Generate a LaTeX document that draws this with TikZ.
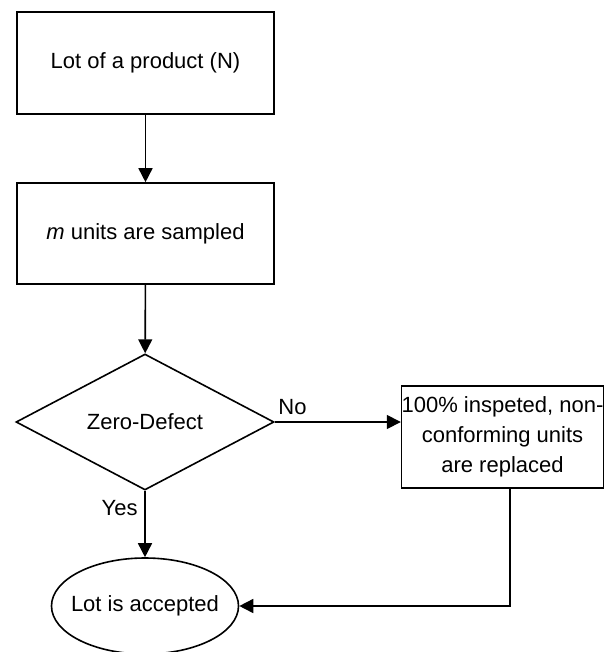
\documentclass[tikz,border=0pt]{standalone}
\usepackage{fontspec}
\setmainfont{Liberation Sans}
\usetikzlibrary{arrows.meta,shapes.geometric,calc}

\begin{document}
\begin{tikzpicture}[x=0.5pt,y=-0.5pt,
			font=\fontsize{11}{15}\selectfont,
			line width=0.8pt,
			flow/.style={-{Triangle[length=7pt,width=7pt]}},
			stepbox/.style={rectangle,draw,align=center,inner sep=0pt},
			test/.style={diamond,draw,inner sep=0pt,
				minimum width=129pt,minimum height=68pt},
			term/.style={ellipse,draw,inner ysep=0pt,inner xsep=-4pt,
				minimum width=93.5pt,minimum height=48pt}]
			
			\useasboundingbox (0,0) rectangle (604,652);
			
			% Steps
			\node[stepbox,minimum width=128.5pt,minimum height=51pt] (lot) at (145.5,63) {Lot of a product (N)};
			\node[stepbox,minimum width=128.5pt,minimum height=50.5pt] (sample) at (145.5,233.5) {\textit{m} units are sampled};
			
			% Decision
			\node[test] (zero) at (145,422) {Zero-Defect};
			\node[stepbox,minimum width=100.5pt,minimum height=51pt] (insp) at (502.5,437)
			{100\% inspeted, non-\\conforming units\\are replaced};
			
			% End
			\node[term] (acc) at (145,606) {Lot is accepted};
			
			% Arrows
			\draw[flow] (lot) -- (sample);
			\draw[flow] (sample) -- (zero);
			\draw[flow] (zero.east) -- node[pos=0.14,above] (no) {No} (zero.east -| insp.west);
			\draw[flow] (zero.south) -- node[pos=0.26,left] (yes) {Yes} (acc.north);
			\draw[flow] ($(insp.south)+(7.5,0)$) |- (acc.east);
			
		\end{tikzpicture}
\end{document}
